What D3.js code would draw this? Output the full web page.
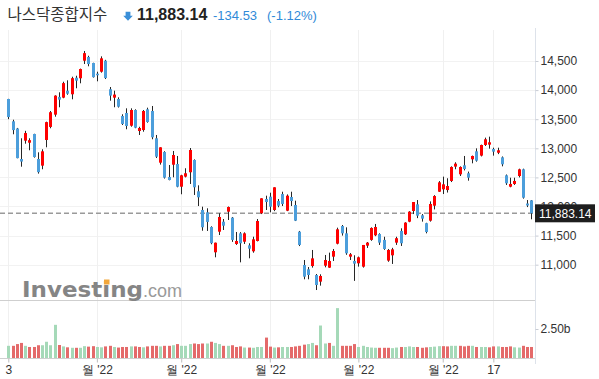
<!DOCTYPE html>
<html><head><meta charset="utf-8">
<script src="https://cdn.jsdelivr.net/npm/d3@7/dist/d3.min.js"></script>
<style>body{margin:0;background:#fff}svg{display:block}</style>
</head><body>
<svg id="c" width="599" height="379"></svg>
<script>
const dates = ["2022-03-03","2022-03-04","2022-03-07","2022-03-08","2022-03-09","2022-03-10","2022-03-11","2022-03-14","2022-03-15","2022-03-16","2022-03-17","2022-03-18","2022-03-21","2022-03-22","2022-03-23","2022-03-24","2022-03-25","2022-03-28","2022-03-29","2022-03-30","2022-03-31",
"2022-04-01","2022-04-04","2022-04-05","2022-04-06","2022-04-07","2022-04-08","2022-04-11","2022-04-12","2022-04-13","2022-04-14","2022-04-18","2022-04-19","2022-04-20","2022-04-21","2022-04-22","2022-04-25","2022-04-26","2022-04-27","2022-04-28","2022-04-29",
"2022-05-02","2022-05-03","2022-05-04","2022-05-05","2022-05-06","2022-05-09","2022-05-10","2022-05-11","2022-05-12","2022-05-13","2022-05-16","2022-05-17","2022-05-18","2022-05-19","2022-05-20","2022-05-23","2022-05-24","2022-05-25","2022-05-26","2022-05-27","2022-05-31",
"2022-06-01","2022-06-02","2022-06-03","2022-06-06","2022-06-07","2022-06-08","2022-06-09","2022-06-10","2022-06-13","2022-06-14","2022-06-15","2022-06-16","2022-06-17","2022-06-21","2022-06-22","2022-06-23","2022-06-24","2022-06-27","2022-06-28","2022-06-29","2022-06-30",
"2022-07-01","2022-07-05","2022-07-06","2022-07-07","2022-07-08","2022-07-11","2022-07-12","2022-07-13","2022-07-14","2022-07-15","2022-07-18","2022-07-19","2022-07-20","2022-07-21","2022-07-22","2022-07-25","2022-07-26","2022-07-27","2022-07-28","2022-07-29",
"2022-08-01","2022-08-02","2022-08-03","2022-08-04","2022-08-05","2022-08-08","2022-08-09","2022-08-10","2022-08-11","2022-08-12","2022-08-15","2022-08-16","2022-08-17","2022-08-18","2022-08-19","2022-08-22","2022-08-23","2022-08-24","2022-08-25","2022-08-26","2022-08-29","2022-08-30"];

const open = [13847,13464,13340,12816,13131,13096,13246,12816,12702,13143,13367,13578,13883,13870,13990,13928,14213,14203,14505,14569,14466,
14282,14316,14505,14015,13870,13847,13555,13607,13388,13658,13297,13314,13670,13641,13172,12753,12936,12507,12718,12730,
12340,12513,12588,12799,12261,11940,11900,11648,11213,11567,11739,11911,11809,11356,11539,11395,11333,11230,11407,11883,12129,
12169,11940,12094,12214,11928,12163,12026,11567,10995,10921,10977,10823,10709,10983,10949,11138,11361,11665,11539,11138,11064,
11024,10966,11327,11426,11505,11527,11426,11070,11161,11379,11580,11522,11739,11923,12037,11849,11713,11756,12014,12254,
12295,12283,12439,12685,12553,12708,12571,12811,12948,12874,13057,13063,12988,12924,12845,12536,12340,12387,12524,12639,12051,12106];

const high = [13850,13491,13350,13172,13300,13172,13250,12931,12983,13457,13641,13911,13962,14144,14168,14230,14247,14370,14672,14590,14470,
14316,14580,14520,14053,13990,13876,13584,13687,13687,13670,13370,13658,13698,13727,13229,13017,12950,12713,12954,12868,
12545,12657,13005,12810,12364,11997,11969,11660,11380,11883,11785,12000,11820,11562,11560,11556,11368,11481,11785,12141,12186,
12237,12330,12129,12254,12208,12254,12100,11580,11081,10960,11253,10840,10835,11167,11207,11270,11636,11682,11642,11200,11162,
11140,11339,11390,11642,11700,11540,11480,11270,11290,11480,11625,11730,11920,12077,12111,11870,11720,12088,12195,12437,
12513,12485,12690,12760,12690,12868,12600,12875,12999,13063,13183,13200,13010,13010,12860,12550,12495,12495,12650,12650,12111,12110];

const low = [13500,13241,12828,12684,13079,12966,12840,12565,12640,13017,13344,13543,13705,13860,13920,13842,14031,14117,14448,14409,14215,
14151,14300,14190,13818,13705,13700,13400,13327,13371,13345,13229,13285,13440,13155,12833,12720,12480,12450,12502,12330,
12210,12500,12387,12198,12008,11584,11580,11351,11127,11510,11596,11768,11392,11340,11041,11356,11110,11206,11400,11870,11940,
11900,11920,11987,12008,11920,12008,11750,11320,10749,10749,10950,10565,10640,10955,10945,11064,11350,11500,11170,11081,10722,
10967,10950,11288,11410,11490,11339,11255,11050,11013,11340,11322,11510,11730,11870,11800,11740,11539,11740,11950,12250,
12214,12240,12420,12640,12524,12620,12444,12742,12770,12860,13040,12994,12874,12900,12690,12370,12330,12370,12500,12135,11990,11780];

const close = [13537,13313,12831,12772,13262,13140,12850,12590,12948,13450,13620,13905,13836,14120,13938,14205,14162,14362,14635,14448,14222,
14255,14546,14207,13905,13923,13715,13418,13383,13658,13354,13349,13641,13452,13189,12856,13017,12495,12455,12885,12340,
12536,12571,12971,12330,12158,11643,11735,11370,11378,11820,11670,11991,11426,11407,11368,11539,11275,11436,11751,12141,12077,
11997,12330,12014,12043,12186,12094,11756,11339,10794,10823,11109,10651,10806,11081,11064,11236,11608,11539,11196,11179,11018,
11127,11339,11379,11631,11648,11379,11270,11253,11264,11455,11368,11723,11911,12077,11842,11791,11562,12043,12180,12415,
12381,12352,12679,12736,12679,12645,12495,12868,12787,13057,13155,13103,12942,12966,12725,12399,12387,12439,12639,12151,12017,11883];

// volume, billions
const volume = [1.05,1.05,1.2,1.3,1.05,0.95,0.95,1.1,1.1,1.4,1.1,2.86,1.12,1.0,0.92,0.88,0.88,0.88,1.02,0.98,1.02,
0.95,0.92,1.0,1.05,0.95,0.9,0.95,0.95,1.0,1.0,0.95,0.92,1.0,1.05,1.05,1.0,1.05,1.05,1.1,1.2,
1.05,1.05,1.2,1.25,1.2,1.25,1.25,1.4,1.3,1.2,1.05,1.05,1.1,0.95,1.0,0.9,0.9,0.88,0.95,0.95,1.76,
0.98,0.9,0.92,0.95,0.95,0.95,1.0,1.05,1.15,1.2,1.3,1.1,2.8,1.25,1.3,1.05,4.3,1.05,1.05,1.05,1.2,
0.95,1.05,0.95,0.9,0.88,0.88,0.88,0.88,0.85,0.9,0.95,0.95,1.0,0.95,0.95,0.88,0.92,0.95,0.98,1.02,
1.02,1.0,1.05,1.05,1.05,1.0,1.05,1.05,0.95,0.95,0.95,0.92,1.0,1.0,0.95,0.95,1.0,0.92,0.9,1.05,0.95,0.95];

const priceTicks = [11000,11500,12000,12500,13000,13500,14000,14500];
const volumeTicks = [2.5];
const volumeTickLabels = ["2.50b"];
const xTickDates = ["2022-03-03","2022-04-01","2022-05-02","2022-06-01","2022-07-01","2022-08-01","2022-08-17"];
const xTickLabels = ["3","월 '22","월 '22","월 '22","월 '22","월 '22","17"];
const title = "나스닥종합지수";
const lastPriceText = "11,883.14";
const lastPrice = 11883.14;
const changeText = "-134.53";
const changePctText = "(-1.12%)";

const svg = d3.select("#c");
const W = 599, axisX = 535;
const x = d3.scalePoint().domain(dates).range([8.3, 531.3]);
const y = d3.scaleLinear().domain([11000,14500]).range([264.7,61]);
const yv = d3.scaleLinear().domain([0,2.5]).range([358,329]);
const RED = "#fe0000", BLUE = "#4c9edb";
const cx = d => Math.round(x(d));

svg.append("rect").attr("width",W).attr("height",379).attr("fill","#fff");

// grid
svg.append("g").selectAll("line").data(priceTicks).join("line")
  .attr("x1",0).attr("x2",axisX).attr("y1",d=>Math.round(y(d))+0.5).attr("y2",d=>Math.round(y(d))+0.5)
  .attr("stroke","#f2f2f2");
svg.append("g").selectAll("line").data(xTickDates).join("line")
  .attr("x1",d=>cx(d)+0.5).attr("x2",d=>cx(d)+0.5).attr("y1",30).attr("y2",358)
  .attr("stroke","#f0f0f0");

// separator
svg.append("line").attr("x1",0).attr("x2",axisX).attr("y1",300.5).attr("y2",300.5).attr("stroke","#cfcfcf");

// watermark
const wm = svg.append("g");
wm.append("text").attr("x",22).attr("y",297).attr("font-family","DejaVu Sans").attr("font-weight","bold")
  .attr("font-size",21).attr("textLength",121).attr("lengthAdjust","spacingAndGlyphs")
  .attr("fill","#858585").text("Investing");
wm.append("rect").attr("x",104).attr("y",279.5).attr("width",5.5).attr("height",5).attr("fill","#f2a73c");
wm.append("text").attr("x",143).attr("y",297).attr("font-family","Liberation Sans, Arial").attr("font-size",18)
  .attr("fill","#9a9a9a").text(".com");

// last price dashed line
svg.append("line").attr("x1",0).attr("x2",axisX).attr("y1",y(lastPrice)).attr("y2",y(lastPrice))
  .attr("stroke","#9a9a9a").attr("stroke-width",1.6).attr("stroke-dasharray","5,3");

// candles
const idx = d3.range(dates.length);
const cg = svg.append("g");
cg.selectAll("line").data(idx).join("line")
  .attr("x1",i=>cx(dates[i])+0.5).attr("x2",i=>cx(dates[i])+0.5)
  .attr("y1",i=>y(high[i])).attr("y2",i=>y(low[i]))
  .attr("stroke","#262626").attr("stroke-width",1);
cg.selectAll("rect").data(idx).join("rect")
  .attr("x",i=>cx(dates[i])-1).attr("width",3)
  .attr("y",i=>y(Math.max(open[i],close[i])))
  .attr("height",i=>Math.max(1,Math.abs(y(open[i])-y(close[i]))))
  .attr("fill",i=>close[i]>=open[i]?RED:BLUE);

// volume
svg.append("g").selectAll("rect").data(idx).join("rect")
  .attr("x",i=>cx(dates[i])-1).attr("width",3)
  .attr("y",i=>yv(volume[i])).attr("height",i=>yv(0)-yv(volume[i]))
  .attr("fill",i=>(i===0||close[i]>=close[i-1])?"#a5d9b8":"#e46a6a");

// bottom axis
svg.append("line").attr("x1",0).attr("x2",axisX).attr("y1",358.5).attr("y2",358.5).attr("stroke","#cfcfcf");
const xa = svg.append("g").attr("transform","translate(0,358.5)")
  .call(d3.axisBottom(x).tickValues(xTickDates).tickFormat((d,i)=>xTickLabels[i]).tickSize(4).tickPadding(3));
xa.select(".domain").remove();
xa.selectAll(".tick line").attr("stroke","#bdbdbd");
xa.selectAll("text").attr("font-family","Liberation Sans, Arial").attr("font-size",12).attr("fill","#333");

// right axis
svg.append("line").attr("x1",axisX+0.5).attr("x2",axisX+0.5).attr("y1",28).attr("y2",364).attr("stroke","#dde2ea");
const ya = svg.append("g").attr("transform",`translate(${axisX+0.5},0)`)
  .call(d3.axisRight(y).tickValues(priceTicks).tickFormat(d3.format(",")).tickSize(3).tickPadding(2));
const yva = svg.append("g").attr("transform",`translate(${axisX+0.5},0)`)
  .call(d3.axisRight(yv).tickValues(volumeTicks).tickFormat((d,i)=>volumeTickLabels[i]).tickSize(3).tickPadding(2));
[ya,yva].forEach(a=>{
  a.select(".domain").remove();
  a.selectAll(".tick line").attr("stroke","#c8ccd4");
  a.selectAll("text").attr("font-family","Liberation Sans, Arial").attr("font-size",12).attr("fill","#333");
});

// price label
const py = y(lastPrice);
svg.append("rect").attr("x",axisX).attr("y",py-9).attr("width",60).attr("height",18).attr("fill","#1e1e1e");
svg.append("text").attr("x",axisX+4).attr("y",py).attr("dy","0.35em").attr("font-family","Liberation Sans, Arial")
  .attr("font-size",12).attr("fill","#fff").text(lastPriceText);

// header
svg.append("text").attr("x",7.5).attr("y",19.5).attr("font-family","Noto Sans CJK KR").attr("font-size",15.5)
  .attr("fill","#333").text(title);
svg.append("path").attr("d","M125.6,11.7H130.4V15.8H132.8L128,20.8L123.2,15.8H125.6Z").attr("fill","#3b8fd8");
svg.append("text").attr("x",137).attr("y",20).attr("font-family","Liberation Sans, Arial").attr("font-weight","bold")
  .attr("font-size",16).attr("fill","#222").text(lastPriceText);
svg.append("text").attr("x",213).attr("y",20).attr("font-family","Liberation Sans, Arial")
  .attr("font-size",13).attr("fill","#2f8ad8").text(changeText);
svg.append("text").attr("x",267).attr("y",20).attr("font-family","Liberation Sans, Arial")
  .attr("font-size",13).attr("fill","#2f8ad8").text(changePctText);
</script>
</body></html>
